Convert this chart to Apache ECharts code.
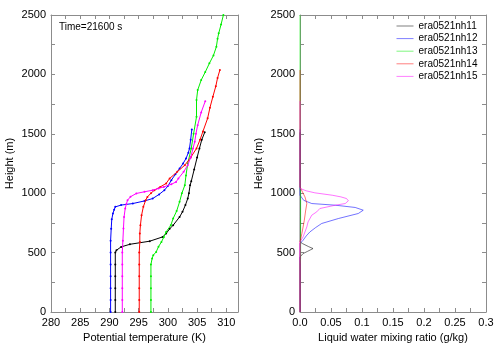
<!DOCTYPE html>
<html>
<head>
<meta charset="utf-8">
<script src="https://cdn.jsdelivr.net/npm/echarts@6/dist/echarts.min.js"></script>
<style>html,body{margin:0;padding:0;background:#fff}#c{width:500px;height:350px}</style>
</head>
<body>
<div id="c"></div>
<script>
// ---- Data ----
const names = ['era0521nh11','era0521nh12','era0521nh13','era0521nh14','era0521nh15'];
const colors = ['#000000','#0000ff','#00ee00','#ff0000','#ff00ff'];

// Potential temperature profiles (K) vs height (m)
const thH11 = [0,100,200,300,400,500,520,548,570,596,632,660,700,730,800,843,900,955,1000,1067,1100,1200,1300,1377,1450,1512];
const thT11 = [291.0,291.0,291.0,291.0,291.0,291.0,291.2,292.0,293.5,296.9,299.1,299.7,300.3,300.9,302.0,302.5,303.0,303.4,303.6,303.8,304.0,304.5,305.0,305.4,305.8,306.3];
const thH12 = [0,100,200,300,400,500,600,700,780,830,860,885,900,913,935,955,990,1025,1060,1110,1160,1208,1250,1292,1340,1377,1450,1537];
const thT12 = [290.2,290.2,290.2,290.2,290.2,290.2,290.2,290.3,290.4,290.6,290.8,291.0,292.0,294.0,296.0,297.4,298.5,299.4,300.0,300.6,301.3,302.0,302.6,303.1,303.5,303.7,303.9,304.1];
const thH13 = [0,100,200,300,400,450,478,506,550,590,630,674,730,787,850,927,1000,1067,1150,1250,1377,1500,1643,1784,1868,1952,2020,2093,2160,2233,2300,2346,2420,2500];
const thT13 = [297.1,297.1,297.1,297.1,297.1,297.3,297.5,298.0,298.4,298.9,299.3,299.7,300.5,300.9,301.5,302.0,302.4,302.9,303.1,303.4,304.0,304.4,304.9,304.9,305.1,305.7,306.4,307.1,307.8,308.3,308.5,308.7,309.1,309.5];
const thH14 = [0,100,200,300,400,500,590,660,730,815,885,941,969,1000,1025,1053,1082,1124,1180,1236,1300,1377,1450,1520,1630,1720,1812,1900,1970,2037];
const thT14 = [295.1,295.1,295.1,295.1,295.1,295.1,295.2,295.2,295.3,295.5,295.8,296.2,296.5,297.1,297.7,298.7,299.7,300.3,301.6,302.9,303.9,304.9,305.5,306.0,306.8,307.2,307.7,308.2,308.5,308.9];
const thH15 = [0,100,200,300,400,500,600,703,800,871,910,941,970,998,1012,1025,1040,1053,1075,1095,1124,1180,1236,1300,1377,1433,1500,1573,1680,1775];
const thT15 = [292.2,292.2,292.2,292.2,292.2,292.2,292.3,292.4,292.5,292.7,292.9,293.1,293.6,294.6,296.0,297.4,298.4,299.3,300.6,301.4,301.8,302.7,303.4,303.9,304.3,304.6,304.8,305.1,305.7,306.4];

// Liquid water mixing ratio (g/kg) vs height (m)
const qlH11 = [0,463,478,492,510,534,550,576,590,800,1000,1512];
const qlQ11 = [0,0,0.002,0.005,0.012,0.021,0.014,0.004,0,0,0,0];
const qlH12 = [0,500,576,604,640,674,710,745,787,829,857,880,899,913,940,983,1100,1300,1537];
const qlQ12 = [0,0,0,0.005,0.010,0.016,0.025,0.035,0.062,0.094,0.102,0.089,0.057,0.019,0.006,0,0,0,0];
const qlH13 = [0,400,450,600,800,1000,1050,1500,2000,2500];
const qlQ13 = [0,0,0.001,0.001,0.001,0.001,0,0,0,0];
const qlH14 = [0,590,660,773,850,913,969,1010,1053,1200,1500,2037];
const qlQ14 = [0,0,0.003,0.007,0.009,0.011,0.008,0.004,0,0,0,0];
const qlH15 = [0,590,632,716,758,815,843,871,899,913,936,955,969,983,1003,1020,1040,1200,1500,1775];
const qlQ15 = [0,0,0.005,0.011,0.013,0.019,0.027,0.032,0.057,0.073,0.078,0.075,0.066,0.052,0.024,0.010,0,0,0,0];

const thetaTicks = [280,285,290,295,300,305,310];
const qlTicks = ['0.0','0.05','0.1','0.15','0.2','0.25','0.3'];
const heightTicks = [0,500,1000,1500,2000,2500];
const titleText = 'Time=21600 s';

// ---- Build ----
const thH = [thH11,thH12,thH13,thH14,thH15];
const thT = [thT11,thT12,thT13,thT14,thT15];
const qlH = [qlH11,qlH12,qlH13,qlH14,qlH15];
const qlQ = [qlQ11,qlQ12,qlQ13,qlQ14,qlQ15];
const zip = (xs, ys) => xs.map((x,i)=>[x, ys[i]]);

const FONT = "'Liberation Sans', Arial, sans-serif";
const frameColor = '#8c8c8c';
const heightFmt = v => heightTicks.indexOf(Math.round(v)) >= 0 ? String(Math.round(v)) : '';
function xAx(gi, pos, opts) {
  const a = {
    type:'value', gridIndex: gi, position: pos,
    axisLine:{show:true, onZero:false, lineStyle:{color:frameColor, width:1}},
    axisTick:{show:true, inside:true, length:4, lineStyle:{color:frameColor}},
    minorTick:{show:true, splitNumber:2, length:4, lineStyle:{color:frameColor}},
    splitLine:{show:false}, minorSplitLine:{show:false},
    axisLabel:{show: pos==='bottom', color:'#000', fontSize:11, fontFamily:FONT, margin:5}
  };
  return Object.assign(a, opts);
}
function yAx(gi, pos, opts) {
  const a = {
    type:'value', gridIndex: gi, position: pos, min:0, max:2500, interval:500,
    axisLine:{show:true, onZero:false, lineStyle:{color:frameColor, width:1}},
    axisTick:{show:true, inside:true, length:4, lineStyle:{color:frameColor}},
    minorTick:{show:true, splitNumber:2, length:4, lineStyle:{color:frameColor}},
    splitLine:{show:false}, minorSplitLine:{show:false},
    axisLabel:{show: pos==='left', color:'#000', fontSize:11, fontFamily:FONT, margin:5, formatter:heightFmt}
  };
  if (pos==='left') {
    a.name = 'Height (m)'; a.nameLocation='middle'; a.nameGap=36;
    a.nameTextStyle = {color:'#000', fontSize:11, fontFamily:FONT};
  }
  return Object.assign(a, opts);
}
const thetaFmt = v => thetaTicks.indexOf(Math.round(v*1000)/1000) >= 0 ? String(v) : '';
const qlFmt = v => { const i = Math.round(v/0.05); return Math.abs(v - i*0.05) < 1e-9 && i < qlTicks.length ? qlTicks[i] : ''; };

const series = [];
// right panel first (legend icons use plain lines)
for (let i=0;i<5;i++) {
  series.push({
    name: names[i], type:'line', xAxisIndex:2, yAxisIndex:2,
    data: zip(qlQ[i], qlH[i]), symbol:'none', smooth:false,
    lineStyle:{color:colors[i], width:1, opacity:0.55}, itemStyle:{color:colors[i]},
    z: 2+i
  });
}
for (let i=0;i<5;i++) {
  series.push({
    name: names[i], type:'line', xAxisIndex:0, yAxisIndex:0,
    data: zip(thT[i], thH[i]), symbol:'circle', symbolSize:2, showSymbol:true,
    lineStyle:{color:colors[i], width:1}, itemStyle:{color:colors[i]},
    z: 2+i
  });
}

const chart = echarts.init(document.getElementById('c'), null, {renderer:'canvas'});
chart.setOption({
  animation:false,
  backgroundColor:'#fff',
  textStyle:{fontFamily:FONT},
  title:{text:titleText, left:59, top:22, textStyle:{fontSize:10, fontWeight:'normal', color:'#000', fontFamily:FONT}, padding:0},
  legend:{
    data: names, orient:'vertical', left:396, top:21, padding:0,
    itemWidth:17, itemHeight:10, itemGap:2.6,
    itemStyle:{opacity:0},
    lineStyle:{width:1, opacity:0.5},
    textStyle:{fontSize:10, color:'#000', fontFamily:FONT}
  },
  grid:[
    {left:51, top:15, width:187, height:297, containLabel:false},
    {left:300, top:15, width:186, height:297, containLabel:false}
  ],
  xAxis:[
    xAx(0,'bottom',{min:280, max:312, interval:5, name:'Potential temperature (K)', nameLocation:'middle', nameGap:17,
      nameTextStyle:{color:'#000', fontSize:11, fontFamily:FONT},
      axisLabel:{show:true, color:'#000', fontSize:11, fontFamily:FONT, margin:5, formatter:thetaFmt, showMaxLabel:false}}),
    xAx(0,'top',{min:280, max:312, interval:5}),
    xAx(1,'bottom',{min:0, max:0.3, interval:0.05, name:'Liquid water mixing ratio (g/kg)', nameLocation:'middle', nameGap:17,
      nameTextStyle:{color:'#000', fontSize:11, fontFamily:FONT},
      axisLabel:{show:true, color:'#000', fontSize:11, fontFamily:FONT, margin:5, formatter:qlFmt}}),
    xAx(1,'top',{min:0, max:0.3, interval:0.05})
  ],
  yAxis:[
    yAx(0,'left'), yAx(0,'right'), yAx(1,'left'), yAx(1,'right')
  ],
  series: series
});
</script>
</body>
</html>
